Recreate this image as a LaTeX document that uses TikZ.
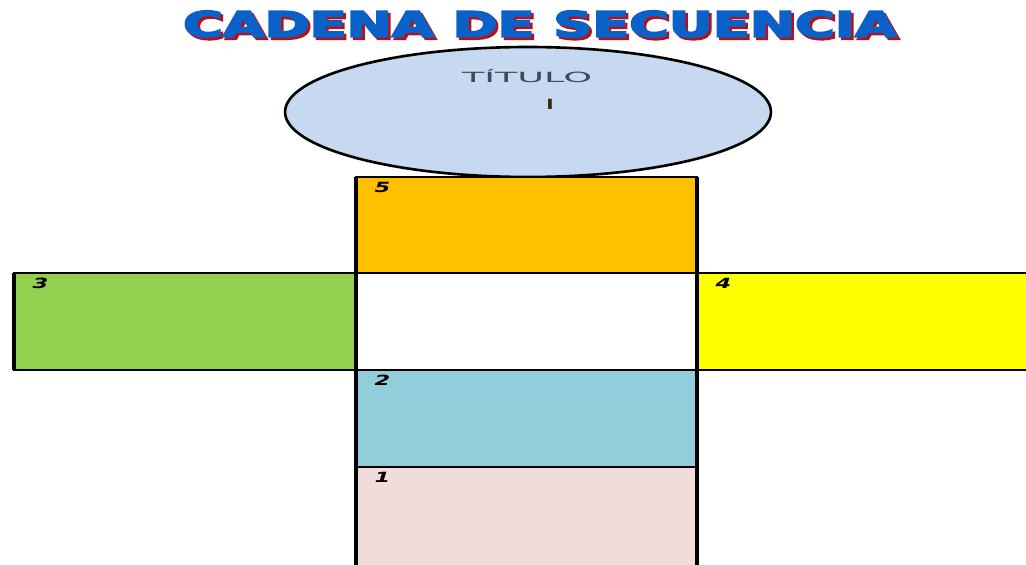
\documentclass[tikz,border=0pt]{standalone}
\usepackage{fontspec}
\setmainfont{DejaVu Sans}
\usepackage{tikz}
\usetikzlibrary{positioning,shapes.geometric}
\definecolor{SeqBlue}{HTML}{0A62C8}
\definecolor{SeqRed}{HTML}{B8101A}
\definecolor{SeqSky}{HTML}{C6D9F0}
\definecolor{SeqOrange}{HTML}{FFC000}
\definecolor{SeqGreen}{HTML}{92D050}
\definecolor{SeqYellow}{HTML}{FFFF00}
\definecolor{SeqTeal}{HTML}{92CDDC}
\definecolor{SeqRose}{HTML}{F2DCDB}
\definecolor{SeqInk}{HTML}{3B4A5C}
\definecolor{SeqBrown}{HTML}{3A2A14}
\tikzset{
  cabecera/.style={font=\fontsize{20}{20}\selectfont\bfseries,xscale=1.54,inner sep=0pt}
}
% heavier letters: fill and stroke the glyphs
\newcommand\grueso[1]{\special{pdf:literal direct 0.9 w 2 Tr}#1\special{pdf:literal direct 0 Tr}}

\begin{document}
\begin{tikzpicture}[x=0.02cm,y=-0.02cm]
  \useasboundingbox (0,0) rectangle (1026,564);
  \clip (0,0) rectangle (1026,564);
  \def\caja#1#2#3#4#5#6#7{
    \fill[#5] (#1,#2) rectangle (#3,#4);
    \draw[line width=1.1pt] (#1,#2) rectangle (#3,#4);
    \node[anchor=north west,font=\fontsize{8}{8}\selectfont\bfseries\itshape,
      xscale=1.6,inner sep=0pt] (#6) at (#1+18,#2+5) {#7};
  }
  % title, red shadow then blue
  \node[cabecera,text=SeqRed] (tituloSombra) at (542.5,26.5) {\grueso{CADENA DE SECUENCIA}};
  \node[cabecera,text=SeqBlue] (tituloTexto) at (540,24) {\grueso{CADENA DE SECUENCIA}};
  % ellipse
  \node[ellipse,draw,line width=1.5pt,fill=SeqSky,minimum width=9.72cm,
    minimum height=2.6cm,inner sep=0pt] (titulo) at (528,112) {};
  \node[font=\fontsize{8}{8}\selectfont,text=SeqInk,xscale=2.6] (tituloLbl)
    at (527,76) {TÍTULO};
  \node[font=\fontsize{8}{8}\selectfont\bfseries,text=SeqBrown,xscale=1.4] (tituloNum)
    at (550,104) {I};
  % boxes
  \caja{356}{177}{697}{273}{SeqOrange}{caja5}{5}
  \caja{356}{273}{697}{370}{white}{centro}{}
  \caja{14}{273}{356}{370}{SeqGreen}{caja3}{3}
  \caja{697}{273}{1040}{370}{SeqYellow}{caja4}{4}
  \caja{356}{370}{697}{467}{SeqTeal}{caja2}{2}
  \caja{356}{467}{697}{580}{SeqRose}{caja1}{1}
  % heavy uprights
  \draw[line width=1.8pt] (356,177) -- (356,580) (697,177) -- (697,580);
  \draw[line width=1.8pt] (14,273) -- (14,370);
\end{tikzpicture}
\end{document}
